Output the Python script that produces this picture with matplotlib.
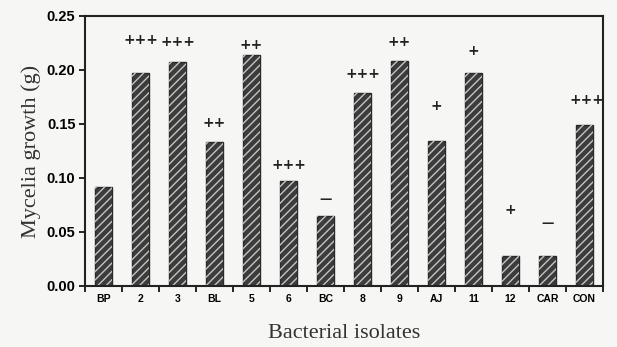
import numpy as np
import matplotlib
matplotlib.use('Agg')
import matplotlib.pyplot as plt

isolates = ['BP', '2', '3', 'BL', '5', '6', 'BC', '8', '9', 'AJ', '11', '12', 'CAR', 'CON']
growth = [0.092, 0.197, 0.207, 0.133, 0.214, 0.097, 0.065, 0.179, 0.208, 0.134, 0.197, 0.028, 0.028, 0.149]
marks = ['', '+++', '+++', '++', '++', '+++', '—', '+++', '++', '+', '+', '+', '—', '+++']
mark_y = [0, 0.228, 0.226, 0.151, 0.223, 0.112, 0.080, 0.196, 0.226, 0.167, 0.218, 0.070, 0.058, 0.172]

fig = plt.figure(figsize=(6.17, 3.47), dpi=100, facecolor='#f6f6f4')
ax = fig.add_axes([0.138, 0.176, 0.839, 0.778])
ax.set_facecolor('#f6f6f4')

x = np.arange(len(isolates))
ax.bar(x, growth, width=0.46, color='#3c3c3c', edgecolor='#2a2a2a', linewidth=1)
ax.bar(x, growth, width=0.46, color='none', edgecolor='#c4c4c4', hatch='////', linewidth=0)

for xi, m, my in zip(x, marks, mark_y):
    if m:
        ax.text(xi + (0.08 if xi == 13 else 0), my, m, ha='center', va='center',
                fontsize=10 if m != '—' else 9, fontweight='bold', color='#222222',
                family='DejaVu Sans')

ax.set_xlim(-0.5, 13.5)
ax.set_ylim(0, 0.25)
ax.set_yticks(np.arange(0, 0.26, 0.05))
ax.set_yticklabels(['%.2f' % v for v in np.arange(0, 0.26, 0.05)],
                   fontsize=10.5, fontweight='bold', family='Liberation Sans')
ax.set_xticks(x)
ax.set_xticklabels(isolates, fontsize=7.5, fontweight='bold', family='Liberation Sans')
ax.set_xticks(np.arange(-0.5, 13.6, 1), minor=True)
ax.tick_params(axis='x', which='major', length=0, pad=6)
ax.tick_params(axis='x', which='minor', length=4, width=1.2, direction='out')
ax.tick_params(axis='y', length=4, width=1.2, direction='out', pad=3)

for s in ax.spines.values():
    s.set_linewidth(1.5)
    s.set_color('#222222')

ax.set_ylabel('Mycelia growth (g)', family='Liberation Serif', fontsize=16, color='#333333', labelpad=4)
ax.set_xlabel('Bacterial isolates', family='Liberation Serif', fontsize=16, color='#333333', labelpad=14)

fig.savefig('out.png', dpi=100, facecolor=fig.get_facecolor())
